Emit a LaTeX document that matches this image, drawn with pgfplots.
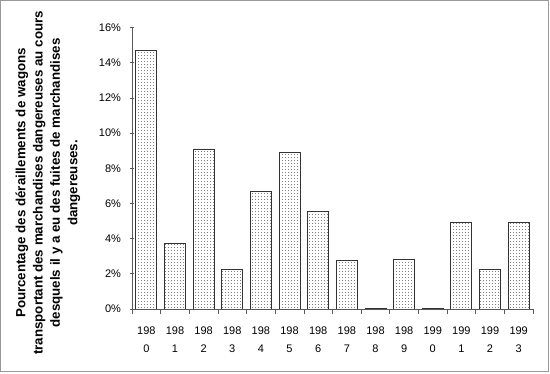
\documentclass[border=0pt]{standalone}
\usepackage{pgfplots}
\pgfplotsset{compat=1.18}
\usepackage{fontspec}
\setmainfont{Liberation Sans}
\usetikzlibrary{patterns}
\pgfdeclarepatternformonly{finedots}{\pgfpointorigin}{\pgfqpoint{2.25pt}{2.25pt}}{\pgfqpoint{2.25pt}{2.25pt}}{%
  \pgfpathrectangle{\pgfpointorigin}{\pgfqpoint{0.75pt}{0.75pt}}\pgfusepath{fill}}
\begin{document}
\begin{tikzpicture}
\useasboundingbox (0,0) rectangle (412.5pt,280.5pt);
\draw[gray!80, line width=0.75pt] (0.4pt,1.9pt) rectangle (411pt,280.1pt);
\begin{axis}[
  at={(99pt,48.75pt)}, anchor=south west,
  scale only axis, width=300.75pt, height=211pt,
  xmin=-0.5, xmax=13.5, ymin=0, ymax=16,
  axis x line*=bottom, axis y line*=left,
  axis line style={black!65, line width=0.6pt},
  ytick={0,2,...,16},
  yticklabels={0\%,2\%,4\%,6\%,8\%,10\%,12\%,14\%,16\%},
  xtick={0,...,13},
  xticklabels={{198\\0},{198\\1},{198\\2},{198\\3},{198\\4},{198\\5},{198\\6},{198\\7},{198\\8},{198\\9},{199\\0},{199\\1},{199\\2},{199\\3}},
  minor xtick={-0.5,0.5,...,13.5},
  every major x tick/.append style={draw=none},
  tick align=center,
  major tick length=3.5pt, minor tick length=3.5pt,
  tick style={black!65, line width=0.5pt},
  ticklabel style={font=\fontsize{8.25}{13.5}\selectfont},
  xticklabel style={align=center, yshift=-6pt},
  yticklabel style={xshift=-3pt},
  ylabel={Pourcentage des déraillements de wagons\\transportant des marchandises dangereuses au cours\\desquels il y a eu des fuites de marchandises\\dangereuses.},
  ylabel style={at={(axis description cs:-0.21,0.448)}, anchor=center, align=center, font=\bfseries\fontsize{10}{13}\selectfont},
  ybar, bar width=15.75pt,
]
\addplot[draw=black!80, line width=0.6pt, fill=white, postaction={pattern=finedots, pattern color=gray}] coordinates {
(0,14.7) (1,3.75) (2,9.1) (3,2.27) (4,6.7) (5,8.88) (6,5.54) (7,2.78) (8,0.04) (9,2.84) (10,0.04) (11,4.95) (12,2.27) (13,4.95)
};
\end{axis}
\end{tikzpicture}
\end{document}
